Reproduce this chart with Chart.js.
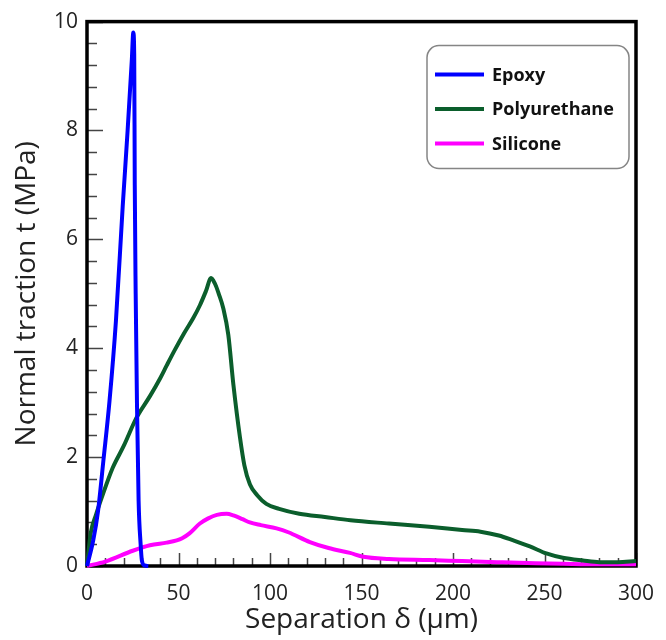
<!DOCTYPE html>
<html>
<head>
<meta charset="utf-8">
<script src="https://cdn.jsdelivr.net/npm/chart.js@4"></script>
<style>
  body { margin: 0; background: #fff; }
  canvas { display: block; }
</style>
</head>
<body>
<canvas id="traction" width="666" height="640"></canvas>
<script>
// traction-separation curves, values
var seriesNames = ['Epoxy', 'Polyurethane', 'Silicone'];

var epoxyX = [0, 3.4, 6, 9, 12.3, 15.8, 19.5, 22.2, 24.5, 25.3, 25.8, 26.1, 26.6, 27.3, 28.2, 29.3, 30, 31.5, 33.5];
var epoxyY = [0, 0.47, 1.0, 1.95, 3.03, 4.5, 6.6, 8.0, 9.3, 9.8, 9.4, 7.0, 5.0, 3.0, 1.2, 0.4, 0.1, 0.01, 0];

var polyX = [0, 2, 5, 8, 14, 20, 27, 34.4, 40, 43.5, 48, 52.6, 58, 61.7, 65, 67.8, 70, 72, 74.5, 77.2, 80, 83.6, 86, 89, 93, 98, 105, 116, 130, 144, 165, 187, 205, 215, 225, 233, 242, 251, 260, 271, 280, 290, 300];
var polyY = [0, 0.6, 0.95, 1.25, 1.8, 2.2, 2.72, 3.12, 3.45, 3.68, 3.97, 4.25, 4.55, 4.79, 5.05, 5.29, 5.18, 5.0, 4.73, 4.25, 3.33, 2.36, 1.85, 1.5, 1.3, 1.14, 1.05, 0.96, 0.9, 0.84, 0.78, 0.72, 0.66, 0.63, 0.56, 0.47, 0.36, 0.23, 0.15, 0.1, 0.07, 0.07, 0.09];

var siliconeX = [0, 10, 25, 34.4, 43.5, 49, 52, 56, 61.7, 66, 71, 76.3, 80, 85, 89, 95, 103.6, 110, 121.8, 132, 143.7, 151, 165, 187, 205, 224, 245, 260, 280, 300];
var siliconeY = [0, 0.08, 0.28, 0.38, 0.43, 0.47, 0.51, 0.6, 0.78, 0.87, 0.94, 0.96, 0.93, 0.86, 0.8, 0.75, 0.69, 0.62, 0.44, 0.33, 0.24, 0.17, 0.13, 0.11, 0.09, 0.07, 0.05, 0.04, 0.03, 0.03];

var seriesColors = ['#0000ff', '#0b5e2c', '#ff00ff'];

var xTickStep = 50, xMinorStep = 10;
var yTickStep = 2, yMinorStep = 0.4;

function toPoints(xs, ys) {
  return xs.map(function(x, i) { return {x: x, y: ys[i]} });
}

var FONT = "'Open Sans', sans-serif";

// inside ticks + heavy frame, drawn under the curves
var framePlugin = {
  id: 'frame',
  beforeDatasetsDraw: function(chart) {
    var c = chart.ctx, a = chart.chartArea;
    var xs = chart.scales.x, ys = chart.scales.y;
    c.save();
    c.strokeStyle = '#444';
    c.lineWidth = 1.5;
    c.beginPath();
    for (var v = 0; v <= 300; v += xMinorStep) {
      var px = Math.round(xs.getPixelForValue(v)) + 0.5;
      var len = (v % xTickStep === 0) ? 13 : 8;
      c.moveTo(px, a.bottom);
      c.lineTo(px, a.bottom - len);
    }
    for (var i = 0; i <= 25; i++) {
      var val = i * yMinorStep;
      var py = Math.round(ys.getPixelForValue(val)) + 0.5;
      var l = (i % 5 === 0) ? 16 : 10;
      c.moveTo(a.left, py);
      c.lineTo(a.left + l, py);
    }
    c.stroke();
    c.strokeStyle = '#000';
    c.lineWidth = 3.5;
    c.strokeRect(a.left, a.top, a.right - a.left, a.bottom - a.top);
    c.restore();
  }
};

// boxed legend in the top right corner of the plot
var boxLegend = {
  id: 'boxLegend',
  afterDatasetsDraw: function(chart) {
    var c = chart.ctx, a = chart.chartArea;
    var w = 202, h = 123;
    var bx = a.right - 7 - w, by = a.top + 24;
    c.save();
    c.fillStyle = '#fff';
    c.strokeStyle = '#858585';
    c.lineWidth = 1.5;
    c.beginPath();
    c.roundRect(bx, by, w, h, 12);
    c.fill();
    c.stroke();
    c.font = 'bold 18px ' + FONT;
    c.textBaseline = 'middle';
    chart.data.datasets.forEach(function(ds, i) {
      var y = by + 29 + i * 34.5;
      c.strokeStyle = ds.borderColor;
      c.lineWidth = 4;
      c.beginPath();
      c.moveTo(bx + 8, y);
      c.lineTo(bx + 57, y);
      c.stroke();
      c.fillStyle = '#111';
      c.fillText(ds.label, bx + 65, y + 1);
    });
    c.restore();
  }
};

var allX = [epoxyX, polyX, siliconeX];
var allY = [epoxyY, polyY, siliconeY];

var chart = new Chart('traction', {
  type: 'line',
  data: {
    datasets: seriesNames.map(function(name, i) {
      return {
        label: name,
        data: toPoints(allX[i], allY[i]),
        borderColor: seriesColors[i],
        backgroundColor: seriesColors[i],
        borderWidth: 4,
        pointRadius: 0,
        cubicInterpolationMode: 'monotone',
        fill: false,
        clip: 6
      };
    })
  },
  options: {
    responsive: false,
    animation: false,
    layout: { padding: { top: 18, right: 30, left: 0, bottom: 0 } },
    plugins: {
      legend: { display: false },
      tooltip: { enabled: false }
    },
    scales: {
      x: {
        type: 'linear',
        min: 0,
        max: 300,
        ticks: { stepSize: xTickStep, color: '#222', padding: 15, maxRotation: 0, font: { family: FONT, size: 21 } },
        grid: { display: false, drawTicks: false },
        border: { display: false },
        title: {
          display: true,
          text: 'Separation δ (μm)',
          color: '#222',
          font: { family: FONT, size: 28 },
          padding: { top: 0, bottom: 3 }
        },
        afterFit: function(s) {
          s.height = 74;
          s.paddingLeft = 0;
          s.paddingRight = 0;
        }
      },
      y: {
        min: 0,
        max: 10,
        ticks: { stepSize: yTickStep, color: '#222', padding: 9, font: { family: FONT, size: 21 } },
        grid: { display: false, drawTicks: false },
        border: { display: false },
        title: {
          display: true,
          text: 'Normal traction t (MPa)',
          color: '#222',
          font: { family: FONT, size: 28 },
          padding: { top: 10, bottom: 0 }
        },
        afterFit: function(s) { s.width = 87; }
      }
    }
  },
  plugins: [framePlugin, boxLegend]
});
</script>
</body>
</html>
